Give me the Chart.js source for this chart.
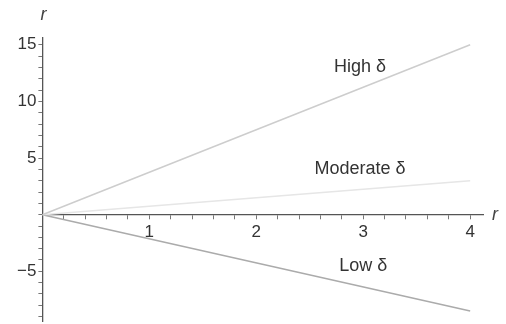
<!DOCTYPE html>
<html>
<head>
<meta charset="utf-8">
<style>
  html, body { margin: 0; padding: 0; background: #fff; }
  #wrap { width: 506px; height: 324px; }
</style>
<script src="https://cdn.jsdelivr.net/npm/chart.js@4/dist/chart.umd.min.js"></script>
</head>
<body>
<div id="wrap"><canvas id="chart"></canvas></div>
<script>
// значения
const nValues = [0, 4];
const highR = [0, 15];
const moderateR = [0, 3];
const lowR = [0, -8.5];

const xTicks = [0, 0.2, 0.4, 0.6, 0.8, 1, 1.2, 1.4, 1.6, 1.8, 2, 2.2, 2.4, 2.6, 2.8, 3, 3.2, 3.4, 3.6, 3.8, 4];
const xLabels = [1, 2, 3, 4];
const yTicks = [-9, -8, -7, -6, -5, -4, -3, -2, -1, 0, 1, 2, 3, 4, 5, 6, 7, 8, 9, 10, 11, 12, 13, 14, 15];
const yLabels = [-5, 5, 10, 15];

const curveNames = ["High \u03b4", "Moderate \u03b4", "Low \u03b4"];
const curveNameX = [2.97, 2.97, 3.0];
const curveNameY = [13, 4.0, -4.5];

const toPoints = (ys) => nValues.map((x, i) => ({ x: x, y: ys[i] }));

// подписи кривых и осей
const textPlugin = {
  id: "texts",
  afterDraw(chart) {
    const ctx = chart.ctx;
    const sx = chart.scales.x;
    const sy = chart.scales.y;
    ctx.save();
    ctx.fillStyle = "#333";
    ctx.font = "18px 'Liberation Sans', Arial, sans-serif";
    ctx.textAlign = "center";
    ctx.textBaseline = "middle";
    curveNames.forEach((name, i) => {
      ctx.fillText(name, sx.getPixelForValue(curveNameX[i]), sy.getPixelForValue(curveNameY[i]));
    });
    ctx.font = "italic 18px 'Liberation Sans', Arial, sans-serif";
    ctx.fillStyle = "#444";
    ctx.fillText("r", sx.getPixelForValue(0) + 1, 15);
    ctx.textAlign = "left";
    ctx.fillText("r", sx.right + 9, sy.getPixelForValue(0));
    ctx.restore();
  },
};

const ctx = document.getElementById("chart").getContext("2d");
new Chart(ctx, {
  type: "scatter",
  data: {
    datasets: [
      {
        label: curveNames[0],
        data: toPoints(highR),
        showLine: true,
        borderColor: "#cdcdcd",
        borderWidth: 1.5,
        pointRadius: 0,
      },
      {
        label: curveNames[1],
        data: toPoints(moderateR),
        showLine: true,
        borderColor: "#e6e6e6",
        borderWidth: 1.5,
        pointRadius: 0,
      },
      {
        label: curveNames[2],
        data: toPoints(lowR),
        showLine: true,
        borderColor: "#ababab",
        borderWidth: 1.5,
        pointRadius: 0,
      },
    ],
  },
  options: {
    responsive: true,
    maintainAspectRatio: false,
    animation: false,
    layout: { padding: { left: 15, right: 23, top: 38, bottom: 1 } },
    plugins: { legend: { display: false }, tooltip: { enabled: false } },
    scales: {
      x: {
        type: "linear",
        position: { y: 0 },
        min: 0,
        max: 4.12,
        afterBuildTicks: (s) => { s.ticks = xTicks.map((v) => ({ value: v })); },
        border: { color: "#555", width: 1.3 },
        grid: { drawOnChartArea: false, drawTicks: true, tickLength: 4, color: "#777" },
        ticks: {
          autoSkip: false,
          maxRotation: 0,
          padding: 3,
          color: "#333",
          font: { family: "'Liberation Sans', Arial, sans-serif", size: 17 },
          callback: (v) => (xLabels.includes(Math.round(v * 10) / 10) ? String(v) : ""),
        },
      },
      y: {
        type: "linear",
        position: "left",
        min: -9.4,
        max: 15.6,
        afterBuildTicks: (s) => { s.ticks = yTicks.map((v) => ({ value: v })); },
        border: { color: "#555", width: 1.3 },
        grid: { drawOnChartArea: false, drawTicks: true, tickLength: 4, color: "#777" },
        ticks: {
          autoSkip: false,
          padding: 2,
          color: "#333",
          font: { family: "'Liberation Sans', Arial, sans-serif", size: 17, lineHeight: 0.1 },
          callback: (v) => (yLabels.includes(v) ? String(v).replace("-", "\u2212") : ""),
        },
      },
    },
  },
  plugins: [textPlugin],
});
</script>
</body>
</html>
